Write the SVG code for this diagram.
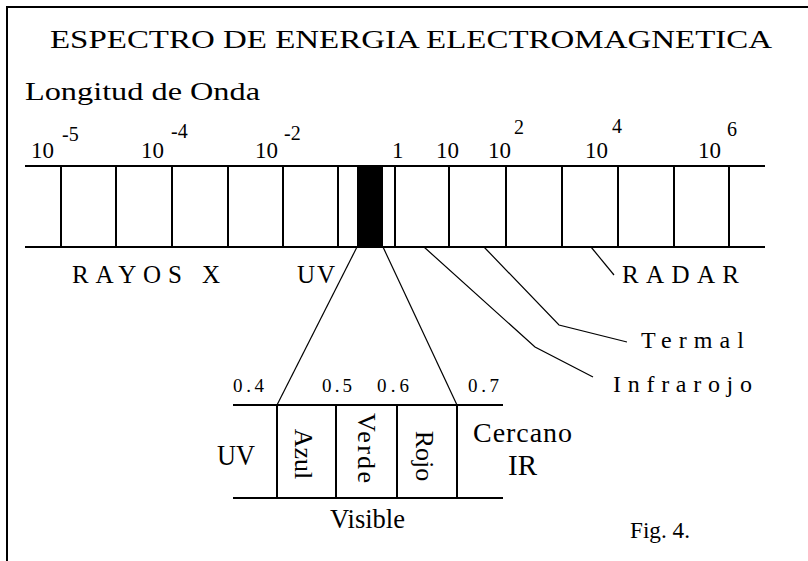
<svg xmlns="http://www.w3.org/2000/svg" width="808" height="561" viewBox="0 0 808 561">
<style>
text{font-family:"Liberation Serif","Times New Roman",serif;fill:#000}
.ln{stroke:#000;stroke-width:2;fill:none}
.th{stroke:#000;stroke-width:1.2;fill:none}
.sup{font-size:20px}
.num{font-size:23px}
.sp{font-size:25px}
.small{font-size:19px}
.rot{font-size:26px;text-anchor:middle}
</style>
<rect width="808" height="561" fill="#fff"/>
<g id="frame"><polyline class="ln" points="7,561 7,7 808,7"/></g>
<g id="title"><text x="50" y="48" font-size="26" textLength="722" lengthAdjust="spacingAndGlyphs">ESPECTRO DE ENERGIA ELECTROMAGNETICA</text></g>
<g id="axis-label"><text x="25" y="100" font-size="25" textLength="235" lengthAdjust="spacingAndGlyphs">Longitud de Onda</text></g>
<g id="scale">
<text class="num" x="31" y="158">10</text><text class="sup" x="62" y="141">-5</text>
<text class="num" x="141" y="158">10</text><text class="sup" x="171" y="138">-4</text>
<text class="num" x="255" y="158">10</text><text class="sup" x="284" y="140">-2</text>
<text class="num" x="392" y="158">1</text>
<text class="num" x="436" y="158">10</text>
<text class="num" x="488" y="158">10</text><text class="sup" x="514" y="134">2</text>
<text class="num" x="585" y="158">10</text><text class="sup" x="612" y="133">4</text>
<text class="num" x="698" y="158">10</text><text class="sup" x="727" y="136">6</text>
</g>
<g id="spectrum-bar">
<line class="ln" x1="25" y1="166" x2="765" y2="166"/>
<line class="ln" x1="25" y1="247" x2="765" y2="247"/>
<path class="ln" d="M61,166V247M116,166V247M172,166V247M228,166V247M283,166V247M338,166V247M395,166V247M449,166V247M506,166V247M562,166V247M618,166V247M674,166V247M729,166V247"/>
<rect x="357" y="166" width="26" height="81" fill="#000"/>
</g>
<g id="label-rayos-x"><text class="sp" x="72" y="283" textLength="148" lengthAdjust="spacing">RAYOS X</text></g>
<g id="label-uv"><text class="sp" x="297" y="283" textLength="38" lengthAdjust="spacing">UV</text></g>
<g id="label-radar"><text class="sp" x="622" y="283" textLength="117" lengthAdjust="spacing">RADAR</text></g>
<g id="label-termal"><text font-size="24" x="641" y="348" textLength="103" lengthAdjust="spacing">Termal</text></g>
<g id="label-infrarojo"><text font-size="24" x="613" y="392" textLength="139" lengthAdjust="spacing">Infrarojo</text></g>
<g id="connectors">
<line class="th" x1="357" y1="247" x2="277" y2="405"/>
<line class="th" x1="383" y1="247" x2="457" y2="405"/>
<polyline class="th" points="591,247 614,275"/>
<polyline class="th" points="484,247 559,325 627,342"/>
<polyline class="th" points="424,247 535,347 593,377"/>
</g>
<g id="visible-box">
<line class="ln" x1="233" y1="405" x2="503" y2="405"/>
<line class="ln" x1="233" y1="498" x2="503" y2="498"/>
<path class="ln" d="M277,405V498M336,405V498M397,405V498M457,405V498"/>
<text class="small" x="233" y="392" textLength="31" lengthAdjust="spacing">0.4</text>
<text class="small" x="322" y="392" textLength="30" lengthAdjust="spacing">0.5</text>
<text class="small" x="377" y="392" textLength="32" lengthAdjust="spacing">0.6</text>
<text class="small" x="468" y="392" textLength="31" lengthAdjust="spacing">0.7</text>
<text font-size="30" x="217" y="465" textLength="38" lengthAdjust="spacingAndGlyphs">UV</text>
<text class="rot" transform="translate(295,454) rotate(90)">Azul</text>
<text class="rot" transform="translate(358,448) rotate(90)" textLength="70" lengthAdjust="spacing">Verde</text>
<text class="rot" transform="translate(416,456) rotate(90)">Rojo</text>
<text font-size="28" x="473" y="442" textLength="99" lengthAdjust="spacing">Cercano</text>
<text font-size="29" x="508" y="475">IR</text>
<text font-size="27" x="330" y="528" textLength="75" lengthAdjust="spacingAndGlyphs">Visible</text>
</g>
<g id="caption"><text font-size="24" x="630" y="538" textLength="60" lengthAdjust="spacingAndGlyphs">Fig. 4.</text></g>
</svg>
